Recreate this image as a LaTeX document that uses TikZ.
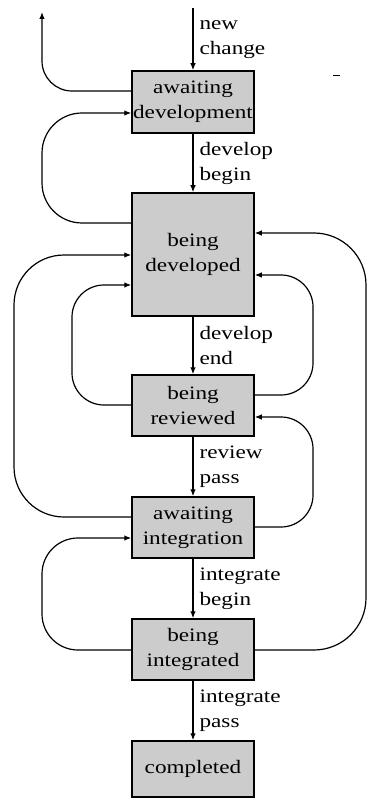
\documentclass[tikz,border=0pt]{standalone}
\usepackage{fontspec}
\setmainfont{Liberation Serif}[FakeStretch=1.22]
\usetikzlibrary{arrows.meta}
\begin{document}
\begin{tikzpicture}[x=1pt,y=-1pt,
  state/.style={draw, line width=1.5pt, fill=black!20, minimum width=122pt,
    align=center, inner sep=0pt, font=\fontsize{19}{25}\selectfont},
  lbl/.style={align=left, anchor=west, inner sep=0pt, xshift=6pt,
    font=\fontsize{19}{25}\selectfont},
  conn/.style={line width=1.2pt, -{Latex[length=7pt,width=5.5pt]}}]
\useasboundingbox (0,0) rectangle (369,799);

\node[state, minimum height=62pt]  (AD) at (193,102)   {awaiting\\development};
\node[state, minimum height=123pt] (BD) at (193,254.5) {being\\developed};
\node[state, minimum height=61pt]  (BR) at (193,405.5) {being\\reviewed};
\node[state, minimum height=61pt]  (AI) at (193,527.5) {awaiting\\integration};
\node[state, minimum height=61pt]  (BI) at (193,649.5) {being\\integrated};
\node[state, minimum height=56pt]  (CO) at (193,769)   {completed};

\coordinate (entry) at (193,8);
\coordinate (exit) at (42,12);

% main flow
\draw[conn] (entry) -- node[lbl] {new\\change} (AD);
\draw[conn] (AD) -- node[lbl] {develop\\begin} (BD);
\draw[conn] (BD) -- node[lbl] {develop\\end} (BR);
\draw[conn] (BR) -- node[lbl] {review\\pass} (AI);
\draw[conn] (AI) -- node[lbl] {integrate\\begin} (BI);
\draw[conn] (BI) -- node[lbl] {integrate\\pass} (CO);

% left loops
\draw[conn, rounded corners=30pt] (AD.west |- 0,91) -- (42,91) -- (exit);
\draw[conn, rounded corners=40pt] (BD.west |- 0,223) -- (42,223) -- (42,113) -- (AD.west |- 0,113);
\draw[conn, rounded corners=32pt] (BR.west |- 0,405) -- (72,405) -- (72,285) -- (BD.west |- 0,285);
\draw[conn, rounded corners=50pt] (AI.west |- 0,517) -- (14,517) -- (14,255) -- (BD.west |- 0,255);
\draw[conn, rounded corners=36pt] (BI.west |- 0,650) -- (42,650) -- (42,538) -- (AI.west |- 0,538);

% right loops
\draw[conn, rounded corners=32pt] (BR.east |- 0,395) -- (313,395) -- (313,275) -- (BD.east |- 0,275);
\draw[conn, rounded corners=32pt] (AI.east |- 0,527) -- (313,527) -- (313,417) -- (BR.east |- 0,417);
\draw[conn, rounded corners=52pt] (BI.east |- 0,650) -- (366,650) -- (366,233) -- (BD.east |- 0,233);

% stray mark
\draw[line width=1pt] (333,76) -- (340,76);
\end{tikzpicture}
\end{document}
